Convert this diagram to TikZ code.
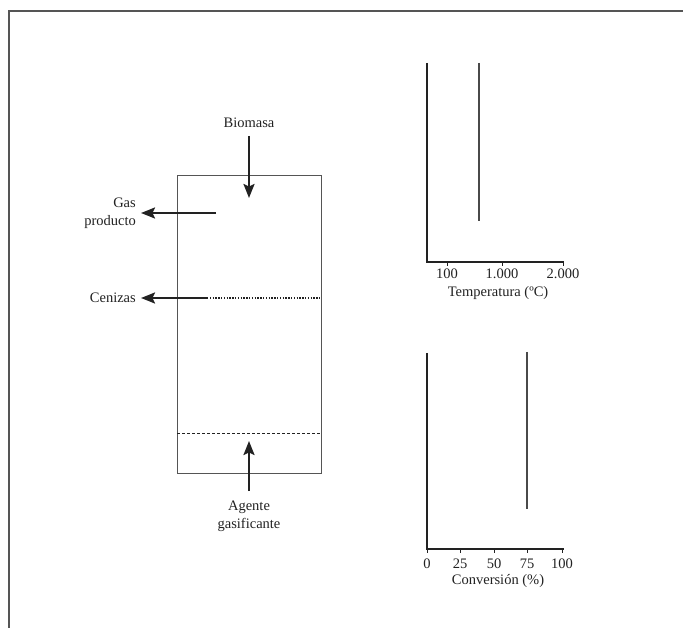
\documentclass[tikz,border=0pt]{standalone}
\usepackage{fontspec}
\setmainfont{Liberation Serif}
\usetikzlibrary{arrows.meta}
\definecolor{framegray}{HTML}{555555}
\definecolor{ink}{HTML}{222222}
\definecolor{plotgray}{HTML}{4a4a4a}
\begin{document}
\begin{tikzpicture}[x=1pt,y=-1pt,
  lbl/.style={font=\fontsize{14.5}{18}\selectfont, text=ink, inner sep=0pt, align=center},
  flow/.style={draw=ink, line width=2.2pt, -{Stealth[length=14pt,width=11pt,inset=2.5pt]}},
  axisline/.style={draw=ink, line width=2pt},
  marker/.style={draw=plotgray, line width=2.8pt},
  tick/.style={draw=ink, line width=1pt}]
\useasboundingbox (0,0) rectangle (683,628);
% frame
\draw[framegray, line width=2pt] (9,628) -- (9,11) -- (684,11);
% reactor
\node[draw=framegray, line width=1pt, minimum width=144pt, minimum height=298pt, inner sep=0pt, anchor=north west] (reactor) at (177,175) {};
% labels
\node[lbl] (biomasa) at (249,123) {Biomasa};
\node[lbl, anchor=east, align=right] (gas) at (136,213) {Gas\\producto};
\node[lbl, anchor=east] (cenizas) at (136,298) {Cenizas};
\node[lbl] (agente) at (249,516) {Agente\\gasificante};
% coordinates
\coordinate (bioin) at (249,198);
\coordinate (gasout) at (216,213);
\coordinate (cenout) at (207,298);
\coordinate (cenend) at (321,298);
\coordinate (agin) at (249,441);
\coordinate (agstart) at (249,491);
% arrows
\draw[flow] (249,136) -- (bioin);
\draw[flow] (gasout) -- (gas.east -| 141,0);
\draw[flow] (cenout) -- (141,298);
\draw[flow] (agstart) -- (agin);
% bed lines
\draw[ink, line width=1.2pt, dash pattern=on 1.4pt off 1.4pt] (cenout) -- (cenend);
\draw[ink, line width=0.9pt, dash pattern=on 3pt off 2pt] (177,433) -- (321,433);
% temperature plot
\coordinate (t0) at (427,262);
\draw[axisline] (427,63) -- (t0) -- (564,262);
\foreach \x in {447,502,563} \draw[tick] (\x,262) -- (\x,266);
\draw[marker] (479,63) -- (479,221);
\node[lbl] (t100) at (447,274) {100};
\node[lbl] (t1000) at (502,274) {1.000};
\node[lbl] (t2000) at (563,274) {2.000};
\node[lbl] (tlab) at (498,293) {Temperatura (ºC)};
% conversion plot
\coordinate (c0) at (427,549);
\draw[axisline] (427,353) -- (c0) -- (564,549);
\foreach \x in {427,460,494,527,562} \draw[tick] (\x,549) -- (\x,553);
\draw[marker] (527,352) -- (527,509);
\node[lbl] (c0l) at (427,564) {0};
\node[lbl] (c25) at (460,564) {25};
\node[lbl] (c50) at (494,564) {50};
\node[lbl] (c75) at (527,564) {75};
\node[lbl] (c100) at (562,564) {100};
\node[lbl] (clab) at (498,581) {Conversión (\%)};
\end{tikzpicture}
\end{document}
